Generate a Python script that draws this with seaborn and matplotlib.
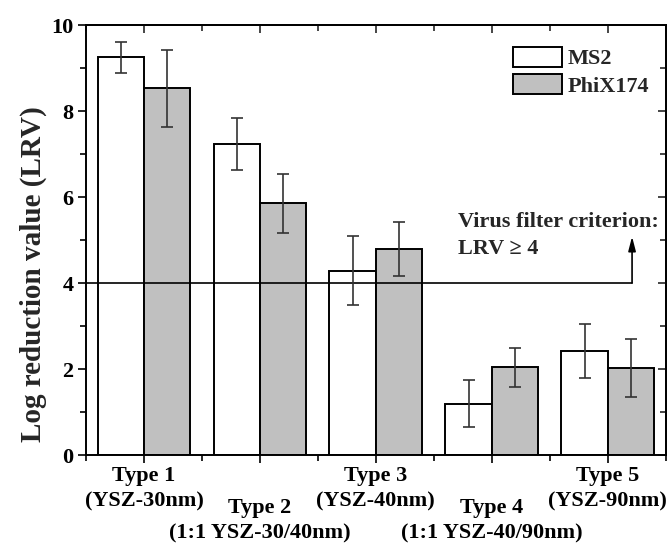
import numpy as np
import pandas as pd
import matplotlib
matplotlib.use("Agg")
import matplotlib.pyplot as plt
import seaborn as sns

# ---- data ----
types = ["Type 1", "Type 2", "Type 3", "Type 4", "Type 5"]
type_desc = ["(YSZ-30nm)", "(1:1 YSZ-30/40nm)", "(YSZ-40nm)", "(1:1 YSZ-40/90nm)", "(YSZ-90nm)"]
viruses = ["MS2", "PhiX174"]
ms2_lrv = [9.25, 7.23, 4.29, 1.19, 2.41]
ms2_err = [0.36, 0.60, 0.80, 0.55, 0.63]
phix_lrv = [8.53, 5.85, 4.80, 2.04, 2.03]
phix_err = [0.90, 0.68, 0.63, 0.46, 0.67]
criterion = 4
criterion_text = ["Virus filter criterion:", "LRV \u2265 4"]
yticks = [0, 2, 4, 6, 8, 10]

df = pd.DataFrame({
    "type": types * 2,
    "virus": [viruses[0]] * len(types) + [viruses[1]] * len(types),
    "lrv": ms2_lrv + phix_lrv,
})

sns.set_style("ticks")
plt.rcParams["font.family"] = ["Liberation Serif", "DejaVu Serif"]
plt.rcParams["font.weight"] = "bold"

FS = 16

fig = plt.figure(figsize=(6.72, 5.44), dpi=100)
ax = fig.add_axes([0.128, 0.1636, 0.8626, 0.7904])

sns.barplot(data=df, x="type", y="lrv", hue="virus", order=types, hue_order=viruses,
            palette=["white", "#c0c0c0"], edgecolor="black", linewidth=1.4,
            saturation=1, errorbar=None, width=0.8, ax=ax, zorder=2)

# error bars from the bar containers
for container, errs in zip(ax.containers, [ms2_err, phix_err]):
    xs = [b.get_x() + b.get_width() / 2 for b in container]
    ys = [b.get_height() for b in container]
    ax.errorbar(xs, ys, yerr=errs, fmt="none", ecolor="#333333", elinewidth=1.2,
                capsize=4, capthick=1.2, zorder=4)

ax.set_xlim(-0.5, 4.5)
ax.set_ylim(0, 10)

# criterion line with arrow
arrow_x = 4.21
ax.plot([-0.5, arrow_x], [criterion, criterion], color="black", lw=1.2, zorder=3)
ax.annotate("", xy=(arrow_x, 5.08), xytext=(arrow_x, criterion),
            arrowprops=dict(arrowstyle="-|>,head_length=0.85,head_width=0.22",
                            color="black", lw=1.2, mutation_scale=10,
                            shrinkA=0, shrinkB=0), zorder=3)
ax.text(2.71, 5.31, criterion_text[0], ha="left", va="baseline", fontsize=FS, fontweight="bold")
ax.text(2.71, 4.67, criterion_text[1], ha="left", va="baseline", fontsize=FS, fontweight="bold")

# ticks
ax.set_yticks(yticks)
ax.set_yticks(np.arange(1, 10, 2), minor=True)
ax.set_yticklabels([str(v) for v in yticks], fontsize=FS, fontweight="bold")
ax.set_xticks(range(len(types)))
ax.set_xticks(np.arange(-0.5, len(types), 1.0), minor=True)
ax.set_xticklabels([f"{t}\n{d}" for t, d in zip(types, type_desc)], fontsize=FS,
                   fontweight="bold", linespacing=1.36)
ax.tick_params(which="major", direction="out", length=6, width=1.2, colors="black")
ax.tick_params(which="minor", direction="out", length=4.5, width=1.2, colors="black")
ax.tick_params(axis="y", which="major", pad=3)
for i, tick in enumerate(ax.xaxis.get_major_ticks()):
    tick.set_pad(2.0 if i % 2 == 0 else 25.0)

ax.set_xlabel("")
ax.set_ylabel("Log reduction value (LRV)", fontsize=21, fontweight="bold")
ax.yaxis.set_label_coords(-0.068, 0.42)

for s in ax.spines.values():
    s.set_visible(True)
    s.set_linewidth(1.4)
    s.set_color("black")

# mirrored inward ticks on top and right
secx = ax.secondary_xaxis("top")
secx.set_xticks(range(len(types)))
secx.set_xticks(np.arange(-0.5, len(types), 1.0), minor=True)
secx.tick_params(which="major", direction="in", length=6, width=1.2, labeltop=False)
secx.tick_params(which="minor", direction="in", length=4.5, width=1.2)
secx.spines["top"].set_linewidth(1.4)
secy = ax.secondary_yaxis("right")
secy.set_yticks(yticks)
secy.set_yticks(np.arange(1, 10, 2), minor=True)
secy.tick_params(which="major", direction="in", length=6, width=1.2, labelright=False)
secy.tick_params(which="minor", direction="in", length=4.5, width=1.2)
secy.spines["right"].set_linewidth(1.4)

handles, labels = ax.get_legend_handles_labels()
ax.legend(handles, labels, loc="upper left", bbox_to_anchor=(0.737, 0.95), frameon=False,
          borderpad=0, borderaxespad=0, handlelength=2.2, handleheight=1.05,
          handletextpad=0.25, labelspacing=0.2,
          prop={"family": "Liberation Serif", "weight": "bold", "size": FS})

fig.savefig("out.png", dpi=100)
